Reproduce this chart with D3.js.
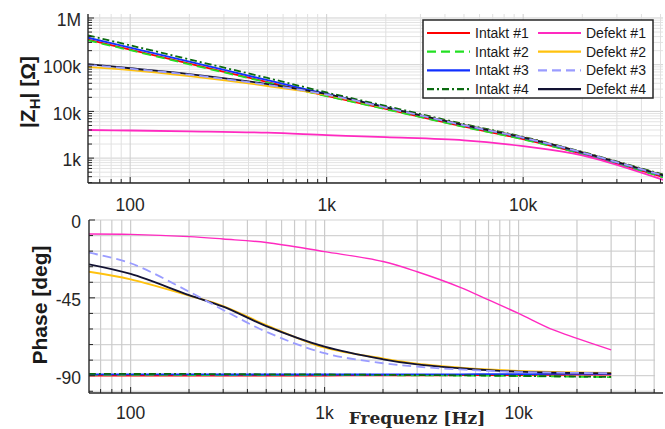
<!DOCTYPE html>
<html>
<head>
<meta charset="utf-8">
<script src="https://cdn.jsdelivr.net/npm/d3@7"></script>
<style>
  body { margin: 0; background: #fff; }
  svg { display: block; }
</style>
</head>
<body>
<svg id="chart"></svg>
<script>
// ---- data ----
// magnitude |Z_H| [Ohm]
const freqMag = [61, 100, 200, 500, 1000, 2000, 5000, 10000, 20000, 52000];
const zIntakt1 = [345e3, 211e3, 106e3, 42.5e3, 21.6e3, 11.3e3, 4.7e3, 2.55e3, 1.23e3, 390];
const zIntakt2 = [332e3, 204e3, 102e3, 41.5e3, 21.2e3, 11.1e3, 4.65e3, 2.52e3, 1.22e3, 385];
const zIntakt3 = [378e3, 231e3, 116e3, 46.5e3, 23.6e3, 12.3e3, 5.05e3, 2.72e3, 1.30e3, 415];
const zIntakt4 = [425e3, 260e3, 130e3, 52e3, 25.4e3, 13.1e3, 5.35e3, 2.85e3, 1.36e3, 440];
const zDefekt1 = [4.0e3, 3.9e3, 3.75e3, 3.5e3, 3.1e3, 2.8e3, 2.4e3, 1.8e3, 1.15e3, 340];
const zDefekt2 = [89e3, 77e3, 57e3, 35e3, 22.5e3, 12.0e3, 5.1e3, 2.78e3, 1.33e3, 425];
const zDefekt3 = [99e3, 82e3, 61e3, 37e3, 23e3, 12.1e3, 5.05e3, 2.75e3, 1.32e3, 420];
const zDefekt4 = [103e3, 84e3, 63e3, 38.5e3, 23.4e3, 12.2e3, 5.1e3, 2.77e3, 1.33e3, 425];

// phase [deg]
const freqPh = [61, 100, 200, 300, 500, 1000, 2000, 3000, 5000, 7000, 10000, 15000, 20000, 30000];
const phIntakt1 = [-89.9, -89.9, -89.9, -89.9, -89.9, -89.9, -89.8, -89.8, -89.7, -89.7, -89.6, -89.5, -89.4, -89.3];
const phIntakt2 = [-89.5, -89.5, -89.6, -89.6, -89.6, -89.7, -89.7, -89.8, -89.9, -90.0, -90.2, -90.4, -90.6, -90.8];
const phIntakt3 = [-89.2, -89.2, -89.2, -89.3, -89.3, -89.3, -89.3, -89.2, -89.2, -89.1, -89.1, -89.0, -89.0, -88.9];
const phIntakt4 = [-88.9, -89.0, -89.0, -89.1, -89.2, -89.3, -89.5, -89.6, -89.8, -89.9, -90.1, -90.3, -90.5, -90.7];
const phDefekt1 = [-8.1, -8.3, -9.6, -11.0, -13.0, -18.3, -24.0, -29.9, -38.9, -46.2, -54.0, -63.4, -68.4, -75.1];
const phDefekt2 = [-29.9, -34.3, -43.7, -49.7, -60.7, -73.8, -80.0, -83.0, -85.3, -86.4, -87.2, -87.8, -88.1, -88.4];
const phDefekt3 = [-18.9, -25.0, -41.4, -52.0, -64.6, -77.0, -82.8, -84.8, -86.4, -87.2, -87.9, -88.2, -88.4, -88.6];
const phDefekt4 = [-25.6, -31.2, -43.4, -50.1, -61.3, -73.2, -80.5, -83.5, -85.7, -86.8, -87.7, -88.2, -88.4, -88.6];

// tick labels
const freqTicks = [100, 1000, 10000];
const freqTickLabels = ['100', '1k', '10k'];
const magTicks = [1e3, 1e4, 1e5, 1e6];
const magTickLabels = ['1k', '10k', '100k', '1M'];
const phTicks = [-90, -45, 0];
const phTickLabels = ['-90', '-45', '0'];

const seriesNames = ['Intakt #1', 'Intakt #2', 'Intakt #3', 'Intakt #4',
                     'Defekt #1', 'Defekt #2', 'Defekt #3', 'Defekt #4'];
const magSeries = [zIntakt1, zIntakt2, zIntakt3, zIntakt4, zDefekt1, zDefekt2, zDefekt3, zDefekt4];
const phSeries = [phIntakt1, phIntakt2, phIntakt3, phIntakt4, phDefekt1, phDefekt2, phDefekt3, phDefekt4];

// line styles, same order as the names
const lineStyle = [
  {color: '#ff0000', dash: null},
  {color: '#22e022', dash: '9,5'},
  {color: '#1030ff', dash: null},
  {color: '#0b6b10', dash: '7,3,2,3'},
  {color: '#ff2ac0', dash: null},
  {color: '#ffc20e', dash: null},
  {color: '#9a9cff', dash: '9,5'},
  {color: '#121232', dash: null}
];
// draw Defekt #4 under Defekt #3
const drawOrder = [0, 1, 2, 3, 4, 5, 7, 6];

const W = 665, H = 429;
const svg = d3.select('#chart').attr('width', W).attr('height', H);
const font = '"Liberation Sans", Arial, sans-serif';
const axisColor = '#262626';

// ---- panel geometry ----
const pTop = {left: 88, right: 663, top: 14, bottom: 183};
const pBot = {left: 89, right: 655, top: 220, bottom: 393};

const xTop = d3.scaleLog().domain([61, 51500]).range([pTop.left, pTop.right]);
const yTop = d3.scaleLog().domain([293, 1.218e6]).range([pTop.bottom, pTop.top]);
const xBot = d3.scaleLog().domain([61, 50500]).range([pBot.left, pBot.right]);
const yBot = d3.scaleLinear().domain([-100, 0]).range([pBot.bottom, pBot.top]);

// log minor values (1..9 x 10^n) inside a domain
function logSteps(domain) {
  const out = [];
  for (let e = Math.floor(Math.log10(domain[0])); e <= Math.ceil(Math.log10(domain[1])); e++) {
    for (let m = 1; m <= 9; m++) {
      const v = m * Math.pow(10, e);
      if (v >= domain[0] && v <= domain[1]) out.push({v: v, major: m === 1});
    }
  }
  return out;
}

function clip(id, p) {
  svg.append('clipPath').attr('id', id).append('rect')
    .attr('x', p.left).attr('y', p.top)
    .attr('width', p.right - p.left).attr('height', p.bottom - p.top);
}
clip('clipTop', pTop);
clip('clipBot', pBot);

// ================= top panel: magnitude =================
const gTop = svg.append('g');
const xStepsTop = logSteps(xTop.domain());
const yStepsTop = logSteps(yTop.domain());

gTop.append('g').selectAll('line').data(yStepsTop).join('line')
  .attr('x1', pTop.left).attr('x2', pTop.right)
  .attr('y1', d => yTop(d.v)).attr('y2', d => yTop(d.v))
  .attr('stroke', d => d.major ? '#cfcfcf' : '#e3e3e3').attr('stroke-width', 1);
gTop.append('g').selectAll('line').data(xStepsTop).join('line')
  .attr('x1', d => xTop(d.v)).attr('x2', d => xTop(d.v))
  .attr('y1', pTop.top).attr('y2', pTop.bottom)
  .attr('stroke', d => d.major ? '#cfcfcf' : '#e0e0e0').attr('stroke-width', 1);

const lineTop = d3.line()
  .x(d => xTop(d[0])).y(d => yTop(d[1]))
  .curve(d3.curveCatmullRom.alpha(0.5));

gTop.append('g').attr('clip-path', 'url(#clipTop)')
  .selectAll('path').data(drawOrder).join('path')
  .attr('d', i => lineTop(freqMag.map((f, k) => [f, magSeries[i][k]])))
  .attr('fill', 'none')
  .attr('stroke', i => lineStyle[i].color)
  .attr('stroke-width', 1.8)
  .attr('stroke-dasharray', i => lineStyle[i].dash);

// axes lines + inward ticks
gTop.append('line').attr('x1', pTop.left).attr('x2', pTop.left)
  .attr('y1', pTop.top).attr('y2', pTop.bottom)
  .attr('stroke', axisColor).attr('stroke-width', 1.4);
gTop.append('line').attr('x1', pTop.left).attr('x2', pTop.right)
  .attr('y1', pTop.bottom).attr('y2', pTop.bottom)
  .attr('stroke', axisColor).attr('stroke-width', 1.4);
gTop.append('g').selectAll('line').data(yStepsTop).join('line')
  .attr('x1', pTop.left).attr('x2', d => pTop.left + (d.major ? 6 : 4))
  .attr('y1', d => yTop(d.v)).attr('y2', d => yTop(d.v))
  .attr('stroke', axisColor).attr('stroke-width', 1);
gTop.append('g').selectAll('line').data(xStepsTop).join('line')
  .attr('x1', d => xTop(d.v)).attr('x2', d => xTop(d.v))
  .attr('y1', pTop.bottom).attr('y2', d => pTop.bottom - (d.major ? 6 : 4))
  .attr('stroke', axisColor).attr('stroke-width', 1);

gTop.append('g').selectAll('text').data(magTicks).join('text')
  .attr('x', 81).attr('y', d => yTop(d) + 2)
  .attr('dy', '0.35em').attr('text-anchor', 'end')
  .attr('font-family', font).attr('font-size', 17.5).attr('fill', axisColor)
  .text((d, i) => magTickLabels[i]);
gTop.append('g').selectAll('text').data(freqTicks).join('text')
  .attr('x', d => xTop(d)).attr('y', 211)
  .attr('text-anchor', 'middle')
  .attr('font-family', font).attr('font-size', 17.5).attr('fill', axisColor)
  .text((d, i) => freqTickLabels[i]);

// y label |Z_H| [Ohm]
const yLab = gTop.append('text')
  .attr('transform', 'translate(35,92) rotate(-90)')
  .attr('text-anchor', 'middle')
  .attr('font-family', font).attr('font-size', 21).attr('font-weight', 'bold')
  .attr('fill', '#1a1a1a');
yLab.append('tspan').text('|Z');
yLab.append('tspan').attr('font-size', 15).attr('dy', 5).text('H');
yLab.append('tspan').attr('dy', -5).text('| [\u03A9]');

// legend
const leg = gTop.append('g');
leg.append('rect').attr('x', 423).attr('y', 20).attr('width', 230).attr('height', 78)
  .attr('fill', '#fff').attr('stroke', '#262626').attr('stroke-width', 1.5);
const legItems = leg.selectAll('g.item').data(seriesNames).join('g')
  .attr('transform', (d, i) => `translate(${i < 4 ? 427 : 538},${33 + (i % 4) * 18.7})`);
legItems.append('line').attr('x1', 0).attr('x2', 43)
  .attr('stroke', (d, i) => lineStyle[i].color)
  .attr('stroke-width', 2.2)
  .attr('stroke-dasharray', (d, i) => lineStyle[i].dash);
legItems.append('text').attr('x', 48).attr('dy', '0.36em')
  .attr('font-family', font).attr('font-size', 14).attr('fill', '#1a1a1a')
  .text(d => d);

// ================= bottom panel: phase =================
const gBot = svg.append('g');
const xStepsBot = logSteps(xBot.domain());
const phGrid = d3.range(0, -100, -9);

gBot.append('g').selectAll('line').data(phGrid).join('line')
  .attr('x1', pBot.left).attr('x2', pBot.right)
  .attr('y1', d => yBot(d)).attr('y2', d => yBot(d))
  .attr('stroke', '#d3d3d3').attr('stroke-width', 1.2);
gBot.append('g').selectAll('line').data(xStepsBot).join('line')
  .attr('x1', d => xBot(d.v)).attr('x2', d => xBot(d.v))
  .attr('y1', pBot.top).attr('y2', pBot.bottom)
  .attr('stroke', '#cbcbcb').attr('stroke-width', 1.2);

const lineBot = d3.line()
  .x(d => xBot(d[0])).y(d => yBot(d[1]))
  .curve(d3.curveCatmullRom.alpha(0.5));

gBot.append('g').attr('clip-path', 'url(#clipBot)')
  .selectAll('path').data(drawOrder).join('path')
  .attr('d', i => lineBot(freqPh.map((f, k) => [f, phSeries[i][k]])))
  .attr('fill', 'none')
  .attr('stroke', i => lineStyle[i].color)
  .attr('stroke-width', i => i === 4 ? 1.4 : 1.8)
  .attr('stroke-dasharray', i => lineStyle[i].dash);

gBot.append('line').attr('x1', pBot.left).attr('x2', pBot.left)
  .attr('y1', pBot.top).attr('y2', pBot.bottom)
  .attr('stroke', axisColor).attr('stroke-width', 1.4);
gBot.append('line').attr('x1', pBot.left).attr('x2', 663)
  .attr('y1', pBot.bottom).attr('y2', pBot.bottom)
  .attr('stroke', axisColor).attr('stroke-width', 1.4);
gBot.append('g').selectAll('line').data(phGrid).join('line')
  .attr('x1', pBot.left).attr('x2', d => pBot.left + (d % 45 === 0 ? 6 : 4))
  .attr('y1', d => yBot(d)).attr('y2', d => yBot(d))
  .attr('stroke', axisColor).attr('stroke-width', 1);
gBot.append('g').selectAll('line').data(xStepsBot).join('line')
  .attr('x1', d => xBot(d.v)).attr('x2', d => xBot(d.v))
  .attr('y1', pBot.bottom).attr('y2', d => pBot.bottom - (d.major ? 6 : 4))
  .attr('stroke', axisColor).attr('stroke-width', 1);

gBot.append('g').selectAll('text').data(phTicks).join('text')
  .attr('x', 81).attr('y', d => yBot(d) + 2)
  .attr('dy', '0.35em').attr('text-anchor', 'end')
  .attr('font-family', font).attr('font-size', 17.5).attr('fill', axisColor)
  .text((d, i) => phTickLabels[i]);
gBot.append('g').selectAll('text').data(freqTicks).join('text')
  .attr('x', d => xBot(d)).attr('y', 419)
  .attr('text-anchor', 'middle')
  .attr('font-family', font).attr('font-size', 17.5).attr('fill', axisColor)
  .text((d, i) => freqTickLabels[i]);

gBot.append('text')
  .attr('transform', 'translate(47,305) rotate(-90)')
  .attr('text-anchor', 'middle')
  .attr('font-family', font).attr('font-size', 21).attr('font-weight', 'bold')
  .attr('fill', '#1a1a1a')
  .text('Phase [deg]');

gBot.append('text')
  .attr('x', 417).attr('y', 424)
  .attr('text-anchor', 'middle')
  .attr('font-family', '"DejaVu Serif", serif').attr('font-size', 17).attr('font-weight', 'bold')
  .attr('fill', '#262626')
  .text('Frequenz [Hz]');
</script>
</body>
</html>
